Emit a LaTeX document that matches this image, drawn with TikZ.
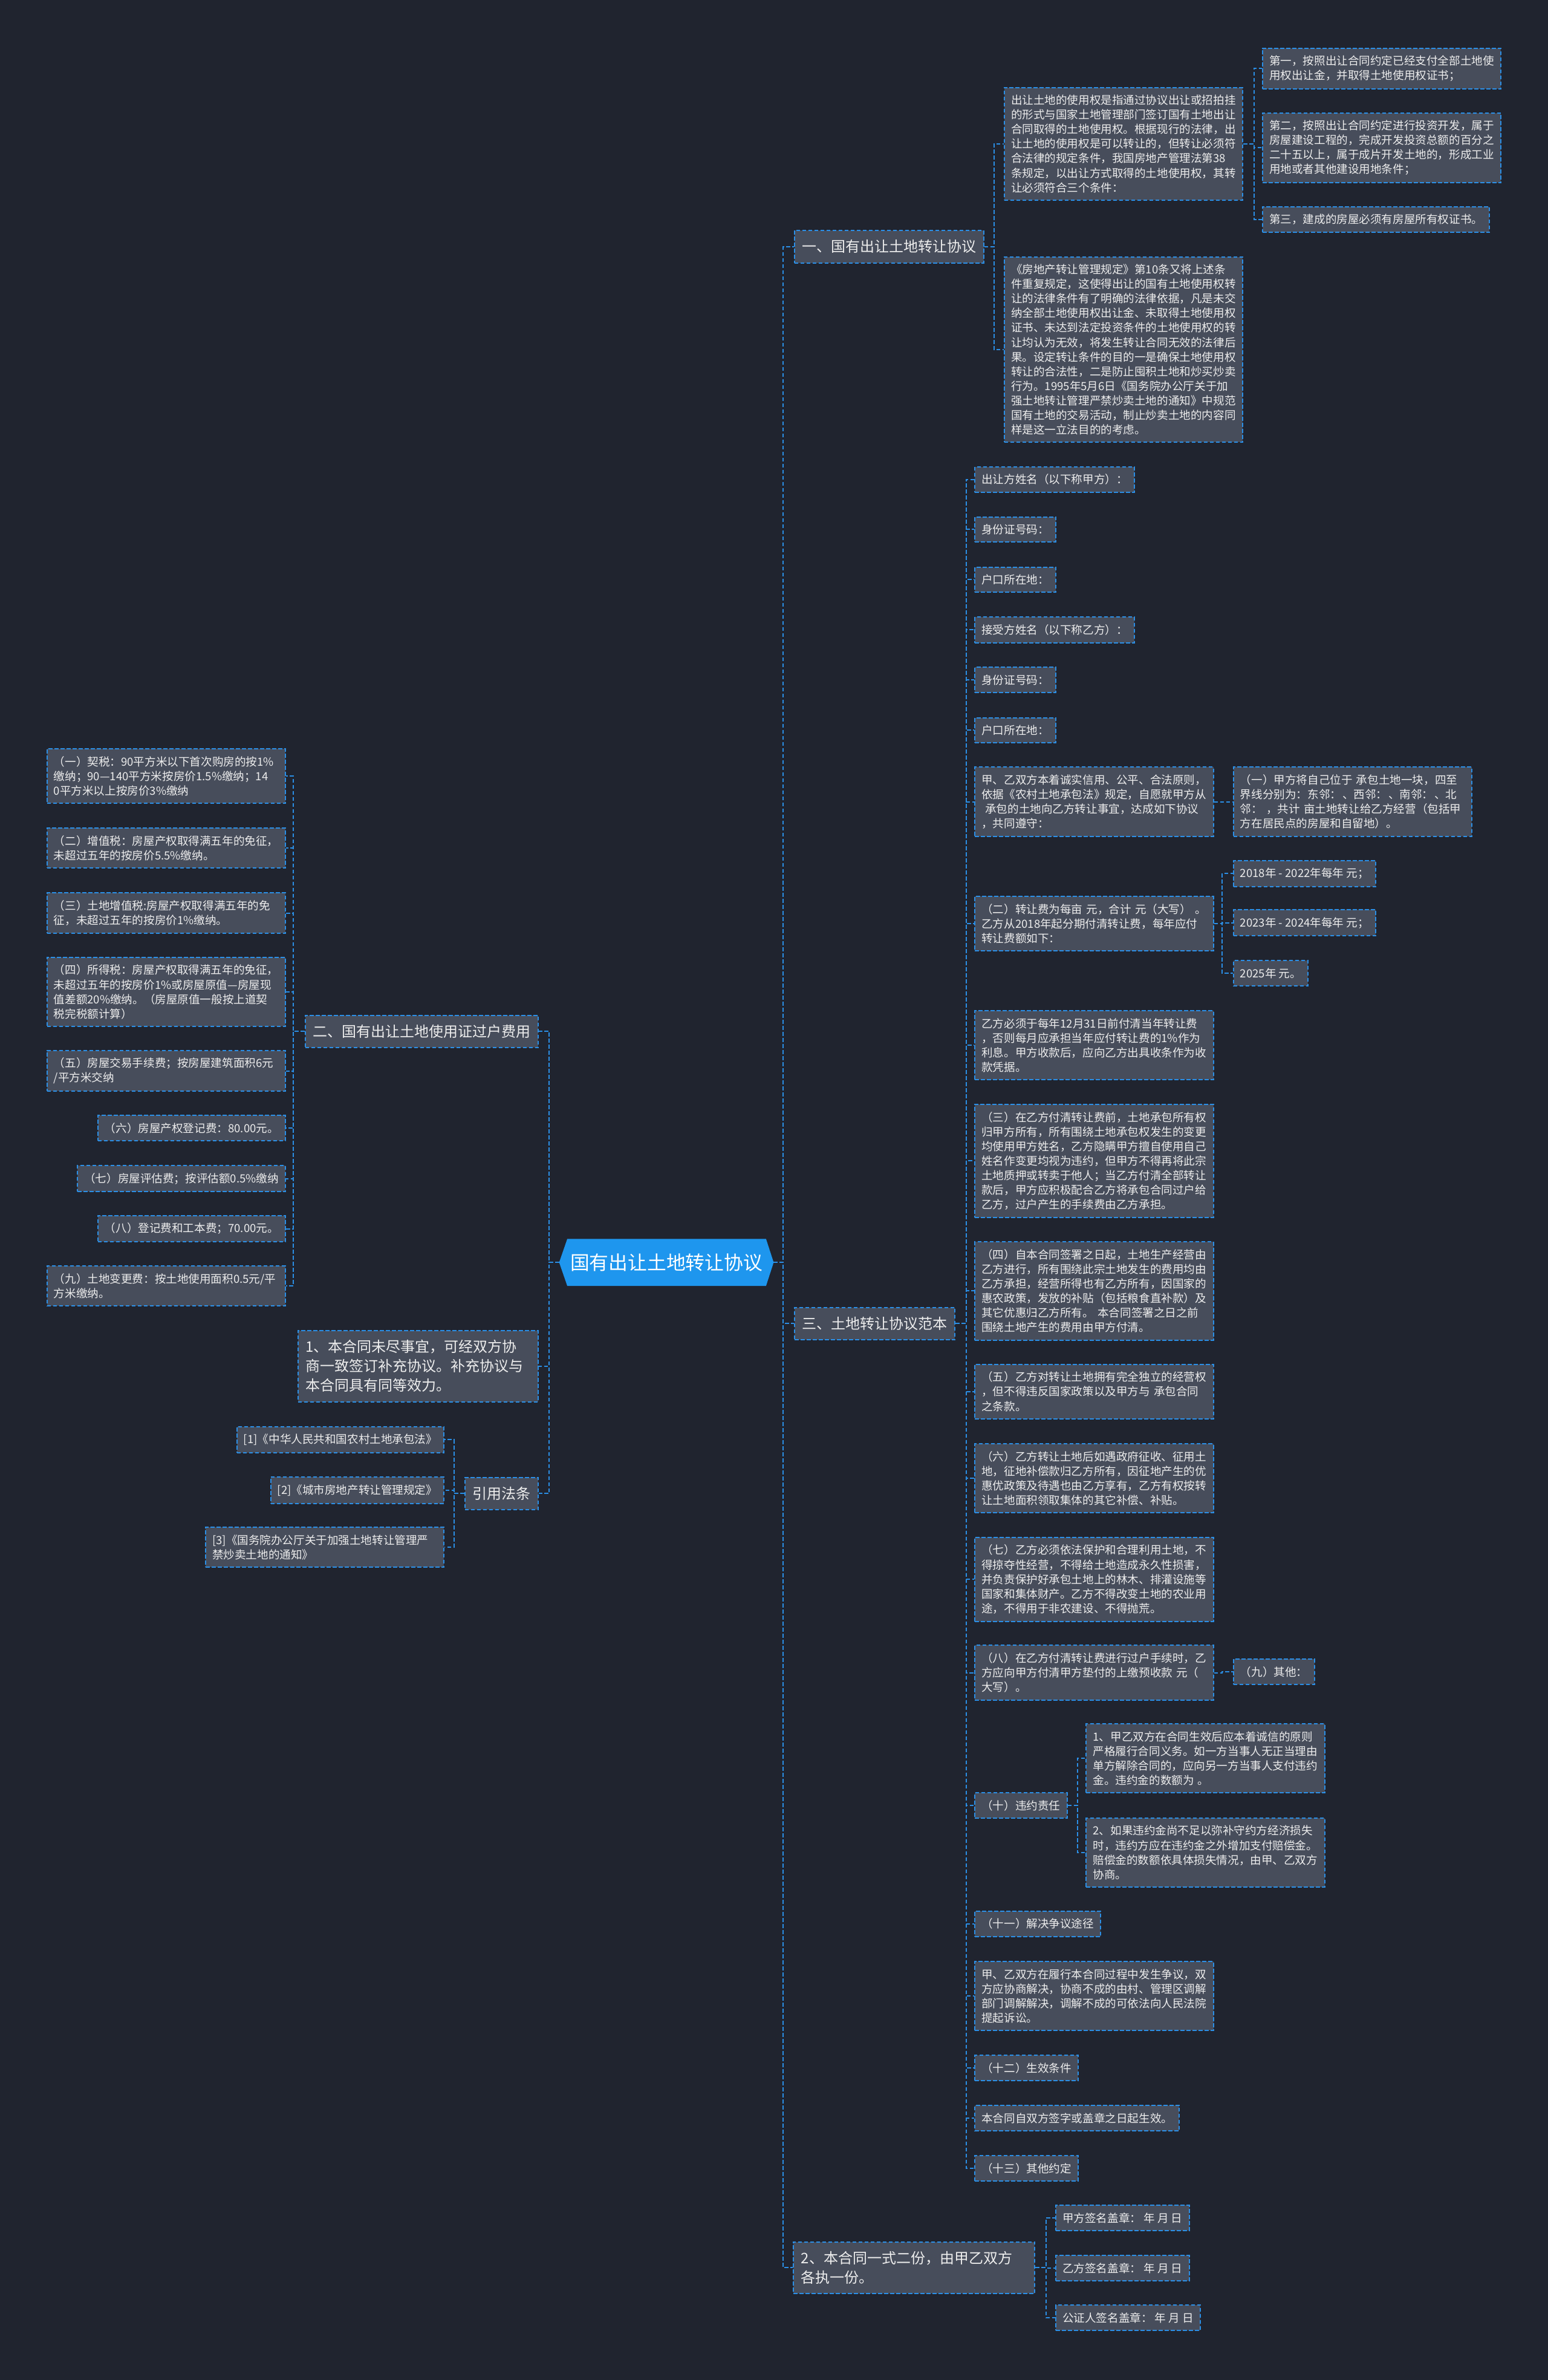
\documentclass[tikz,border=0pt]{standalone}
\usepackage{fontspec}
\setmainfont{Noto Sans CJK SC}
\usetikzlibrary{backgrounds}
\definecolor{bgc}{HTML}{20242F}
\definecolor{boxc}{HTML}{474D5B}
\definecolor{linec}{HTML}{2B8FE6}
\definecolor{txtc}{HTML}{EDEDED}
\definecolor{rootc}{HTML}{1E96EE}
\newcommand{\fsS}{\fontsize{9.29pt}{12.05pt}\selectfont}
\newcommand{\fsM}{\fontsize{12pt}{16.06pt}\selectfont}
\newcommand{\fsL}{\fontsize{15.9pt}{19pt}\selectfont}
\newcommand{\mmR}[3]{\draw[conn] (#1.east) -- ++(#3,0) |- (#2.west);}
\newcommand{\mmL}[3]{\draw[conn] (#1.west) -- ++(-#3,0) |- (#2.east);}
\tikzset{
  dsh/.style={dash pattern=on 3.3pt off 1.7pt},
  sbox/.style={draw=linec, fill=boxc, dsh, line width=1pt, text=txtc, font=\fsS, inner xsep=5.6pt, inner ysep=6.1pt, align=left},
  wbox/.style={sbox, text width=186pt},
  mbox/.style={sbox, font=\fsM, inner xsep=6.3pt, inner ysep=7.8pt},
  conn/.style={draw=linec, dsh, line width=1pt},
  rootnode/.style={text=white, font=\fsL, minimum width=177pt, minimum height=38.4pt, inner sep=0pt},
}
\begin{document}
\begin{tikzpicture}[x=1.2549pt, y=-1.2549pt]
\begin{scope}[on background layer]
\fill[bgc] (0,0) rectangle (1020,1568);
\end{scope}
\useasboundingbox (0,0) rectangle (1020,1568);

% root
\node[rootnode] (root) at (439.15,831.7) {国有出让土地转让协议};
\begin{scope}[on background layer]
\fill[rootc] (root.west) -- ([xshift=6.7pt]root.north west) -- ([xshift=-6.3pt]root.north east) -- (root.east) -- ([xshift=-6.3pt]root.south east) -- ([xshift=6.7pt]root.south west) -- cycle;
\end{scope}

% right level 1
\node[mbox, anchor=west] (n1) at (523,162.5) {一、国有出让土地转让协议};
\node[mbox, anchor=west] (n3) at (523.3,872) {三、土地转让协议范本};
\node[mbox, anchor=west, text width=187pt] (n4) at (522.5,1494) {2、本合同一式二份，由甲乙双方\\各执一份。};
% left level 1
\node[mbox, anchor=east] (m1) at (355,679.5) {二、国有出让土地使用证过户费用};
\node[mbox, anchor=east, text width=186pt] (m2) at (355,900) {1、本合同未尽事宜，可经双方协\\商一致签订补充协议。补充协议与\\本合同具有同等效力。};
\node[mbox, anchor=east] (m3) at (355,984) {引用法条};

% branch 一
\node[wbox, anchor=west] (b1) at (661.4,94.75) {出让土地的使用权是指通过协议出让或招拍挂\\的形式与国家土地管理部门签订国有土地出让\\合同取得的土地使用权。根据现行的法律，出\\让土地的使用权是可以转让的，但转让必须符\\合法律的规定条件，我国房地产管理法第38\\条规定，以出让方式取得的土地使用权，其转\\让必须符合三个条件：};
\node[wbox, anchor=west] (b2) at (661.4,230.3) {《房地产转让管理规定》第10条又将上述条\\件重复规定，这使得出让的国有土地使用权转\\让的法律条件有了明确的法律依据，凡是未交\\纳全部土地使用权出让金、未取得土地使用权\\证书、未达到法定投资条件的土地使用权的转\\让均认为无效，将发生转让合同无效的法律后\\果。设定转让条件的目的一是确保土地使用权\\转让的合法性，二是防止囤积土地和炒买炒卖\\行为。1995年5月6日《国务院办公厅关于加\\强土地转让管理严禁炒卖土地的通知》中规范\\国有土地的交易活动，制止炒卖土地的内容同\\样是这一立法目的的考虑。};
\node[wbox, anchor=west] (c1) at (831.6,45.1) {第一，按照出让合同约定已经支付全部土地使\\用权出让金，并取得土地使用权证书；};
\node[wbox, anchor=west] (c2) at (831.6,97.4) {第二，按照出让合同约定进行投资开发，属于\\房屋建设工程的，完成开发投资总额的百分之\\二十五以上，属于成片开发土地的，形成工业\\用地或者其他建设用地条件；};
\node[sbox, anchor=west] (c3) at (831.6,144.5) {第三，建成的房屋必须有房屋所有权证书。};

% branch 三
\node[sbox, anchor=west] (d1) at (642,315.9) {出让方姓名（以下称甲方）：};
\node[sbox, anchor=west] (d2) at (642,348.8) {身份证号码：};
\node[sbox, anchor=west] (d3) at (642,381.9) {户口所在地：};
\node[sbox, anchor=west] (d4) at (642,415) {接受方姓名（以下称乙方）：};
\node[sbox, anchor=west] (d5) at (642,448) {身份证号码：};
\node[sbox, anchor=west] (d6) at (642,481.1) {户口所在地：};
\node[wbox, anchor=west] (d7) at (642,528.2) {甲、乙双方本着诚实信用、公平、合法原则，\\依据《农村土地承包法》规定，自愿就甲方从\\\hspace*{3pt}承包的土地向乙方转让事宜，达成如下协议\\，共同遵守：};
\node[wbox, anchor=west] (d8) at (642,608.5) {（二）转让费为每亩 元，合计 元（大写） 。\\乙方从2018年起分期付清转让费，每年应付\\转让费额如下：};
\node[wbox, anchor=west] (d9) at (642,688.6) {乙方必须于每年12月31日前付清当年转让费\\，否则每月应承担当年应付转让费的1\%作为\\利息。甲方收款后，应向乙方出具收条作为收\\款凭据。};
\node[wbox, anchor=west] (d10) at (642,764.8) {（三）在乙方付清转让费前，土地承包所有权\\归甲方所有，所有围绕土地承包权发生的变更\\均使用甲方姓名，乙方隐瞒甲方擅自使用自己\\姓名作变更均视为违约，但甲方不得再将此宗\\土地质押或转卖于他人；当乙方付清全部转让\\款后，甲方应积极配合乙方将承包合同过户给\\乙方，过户产生的手续费由乙方承担。};
\node[wbox, anchor=west] (d11) at (642,850.5) {（四）自本合同签署之日起，土地生产经营由\\乙方进行，所有围绕此宗土地发生的费用均由\\乙方承担，经营所得也有乙方所有，因国家的\\惠农政策，发放的补贴（包括粮食直补款）及\\其它优惠归乙方所有。 本合同签署之日之前\\围绕土地产生的费用由甲方付清。};
\node[wbox, anchor=west] (d12) at (642,916.8) {（五）乙方对转让土地拥有完全独立的经营权\\，但不得违反国家政策以及甲方与 承包合同\\之条款。};
\node[wbox, anchor=west] (d13) at (642,974) {（六）乙方转让土地后如遇政府征收、征用土\\地，征地补偿款归乙方所有，因征地产生的优\\惠优政策及待遇也由乙方享有，乙方有权按转\\让土地面积领取集体的其它补偿、补贴。};
\node[wbox, anchor=west] (d14) at (642,1040.5) {（七）乙方必须依法保护和合理利用土地，不\\得掠夺性经营，不得给土地造成永久性损害，\\并负责保护好承包土地上的林木、排灌设施等\\国家和集体财产。乙方不得改变土地的农业用\\途，不得用于非农建设、不得抛荒。};
\node[wbox, anchor=west] (d15) at (642,1102) {（八）在乙方付清转让费进行过户手续时，乙\\方应向甲方付清甲方垫付的上缴预收款 元（\\大写）。};
\node[sbox, anchor=west] (d16) at (642,1189.5) {（十）违约责任};
\node[sbox, anchor=west] (d17) at (642,1267.5) {（十一）解决争议途径};
\node[wbox, anchor=west] (d18) at (642,1315) {甲、乙双方在履行本合同过程中发生争议，双\\方应协商解决，协商不成的由村、管理区调解\\部门调解解决，调解不成的可依法向人民法院\\提起诉讼。};
\node[sbox, anchor=west] (d19) at (642,1362.5) {（十二）生效条件};
\node[sbox, anchor=west] (d20) at (642,1395.5) {本合同自双方签字或盖章之日起生效。};
\node[sbox, anchor=west] (d21) at (642,1428.5) {（十三）其他约定};

\node[wbox, anchor=west] (e1) at (812.4,528.2) {（一）甲方将自己位于 承包土地一块，四至\\界线分别为：东邻：\hspace{0.1em}、西邻：\hspace{0.1em}、南邻：\hspace{0.1em}、北\\邻： ，共计 亩土地转让给乙方经营（包括甲\\方在居民点的房屋和自留地）。};
\node[sbox, anchor=west] (f1) at (812.4,575.5) {2018年 - 2022年每年 元；};
\node[sbox, anchor=west] (f2) at (812.4,608) {2023年 - 2024年每年 元；};
\node[sbox, anchor=west] (f3) at (812.4,641.2) {2025年 元。};
\node[sbox, anchor=west] (g1) at (812.4,1101.5) {（九）其他：};
\node[wbox, anchor=west] (h1) at (715.4,1158.5) {1、甲乙双方在合同生效后应本着诚信的原则\\严格履行合同义务。如一方当事人无正当理由\\单方解除合同的，应向另一方当事人支付违约\\金。违约金的数额为 。};
\node[wbox, anchor=west] (h2) at (715.4,1220.5) {2、如果违约金尚不足以弥补守约方经济损失\\时，违约方应在违约金之外增加支付赔偿金。\\赔偿金的数额依具体损失情况，由甲、乙双方\\协商。};
\node[sbox, anchor=west] (i1) at (695.3,1461.3) {甲方签名盖章： 年 月 日};
\node[sbox, anchor=west] (i2) at (695.3,1494.3) {乙方签名盖章： 年 月 日};
\node[sbox, anchor=west] (i3) at (695.3,1527) {公证人签名盖章： 年 月 日};

% left branch 二
\node[wbox, anchor=east] (j1) at (188.5,511.3) {（一）契税：90平方米以下首次购房的按1\%\\缴纳；90—140平方米按房价1.5\%缴纳；14\\0平方米以上按房价3\%缴纳};
\node[wbox, anchor=east] (j2) at (188.5,558.8) {（二）增值税：房屋产权取得满五年的免征，\\未超过五年的按房价5.5\%缴纳。};
\node[wbox, anchor=east] (j3) at (188.5,601.5) {（三）土地增值税:房屋产权取得满五年的免\\征，未超过五年的按房价1\%缴纳。};
\node[wbox, anchor=east] (j4) at (188.5,653.5) {（四）所得税：房屋产权取得满五年的免征，\\未超过五年的按房价1\%或房屋原值—房屋现\\值差额20\%缴纳。（房屋原值一般按上道契\\税完税额计算）};
\node[wbox, anchor=east] (j5) at (188.5,705.5) {（五）房屋交易手续费；按房屋建筑面积6元\\/平方米交纳};
\node[sbox, anchor=east] (j6) at (188.5,743.2) {（六）房屋产权登记费：80.00元。};
\node[sbox, anchor=east] (j7) at (188.5,776.5) {（七）房屋评估费；按评估额0.5\%缴纳};
\node[sbox, anchor=east] (j8) at (188.5,809.5) {（八）登记费和工本费；70.00元。};
\node[wbox, anchor=east] (j9) at (188.5,847.3) {（九）土地变更费：按土地使用面积0.5元/平\\方米缴纳。};

% left branch 引用法条
\node[sbox, anchor=east] (k1) at (293,948.5) {[1]《中华人民共和国农村土地承包法》};
\node[sbox, anchor=east] (k2) at (293,981.8) {[2]《城市房地产转让管理规定》};
\node[wbox, anchor=east] (k3) at (293,1019.3) {[3]《国务院办公厅关于加强土地转让管理严\\禁炒卖土地的通知》};

% connectors
\mmR{root}{n1}{6.3} \mmR{root}{n3}{6.3} \mmR{root}{n4}{6.3}
\mmL{root}{m1}{6.6} \mmL{root}{m2}{6.6} \mmL{root}{m3}{6.6}
\mmR{n1}{b1}{6.3} \mmR{n1}{b2}{6.3}
\mmR{b1}{c1}{7} \mmR{b1}{c2}{7} \mmR{b1}{c3}{7}
\foreach \k in {1,...,21}{\mmR{n3}{d\k}{7}}
\mmR{d7}{e1}{5.5}
\mmR{d8}{f1}{5.5} \mmR{d8}{f2}{5.5} \mmR{d8}{f3}{5.5}
\mmR{d15}{g1}{5.5}
\mmR{d16}{h1}{6.4} \mmR{d16}{h2}{6.4}
\mmR{n4}{i1}{7} \mmR{n4}{i2}{7} \mmR{n4}{i3}{7}
\foreach \k in {1,...,9}{\mmL{m1}{j\k}{7.5}}
\mmL{m3}{k1}{6.8} \mmL{m3}{k2}{6.8} \mmL{m3}{k3}{6.8}
\end{tikzpicture}
\end{document}
